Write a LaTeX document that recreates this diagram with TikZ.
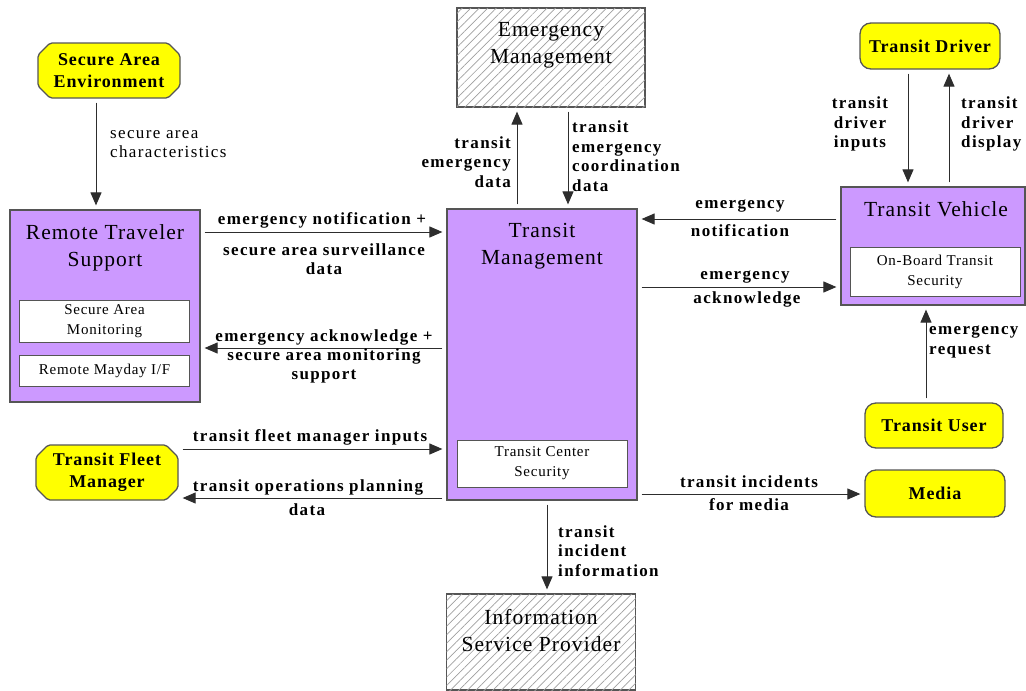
\documentclass[tikz,border=0pt]{standalone}
\usepackage{fontspec}
\setmainfont{Liberation Serif}
\newfontfamily\lblfont{Liberation Serif}[LetterSpace=8]
\newfontfamily\ttlfont{Liberation Serif}[LetterSpace=5]
\usetikzlibrary{arrows.meta,patterns.meta,shapes.misc}

\definecolor{sysfill}{RGB}{204,153,255}
\definecolor{termfill}{RGB}{255,255,0}
\definecolor{edgegray}{RGB}{85,85,85}
\definecolor{hatchgray}{RGB}{160,160,160}
\definecolor{flowgray}{RGB}{45,45,45}

\tikzset{
  sysbox/.style={draw=edgegray, line width=1.2pt, fill=sysfill, inner sep=0pt},
  titletext/.style={font=\ttlfont\fontsize{21.5}{27}\selectfont, align=center, inner sep=0pt},
  innerbox/.style={draw=edgegray, line width=1pt, fill=white, inner sep=0pt,
    font=\ttlfont\fontsize{15}{20}\selectfont, align=center},
  termbox/.style={draw=edgegray, line width=1.3pt, fill=termfill, rounded corners=11pt,
    inner sep=0pt, font=\ttlfont\bfseries\fontsize{18}{22}\selectfont, align=center},
  termchamf/.style={termbox, rounded corners=2pt, chamfered rectangle,
    chamfered rectangle xsep=6pt, chamfered rectangle ysep=6pt},
  extbox/.style={draw=edgegray, line width=1.2pt, fill=white, inner sep=0pt,
    postaction={pattern={Lines[angle=45,distance=6pt,line width=0.7pt]}, pattern color=hatchgray}},
  flow/.style={draw=flowgray, line width=1pt, -{Triangle[length=13pt,width=11pt]},
    shorten <=4pt, shorten >=4pt},
  flowlbl/.style={font=\lblfont\bfseries\fontsize{17}{19.5}\selectfont, inner sep=0pt},
  flowlblreg/.style={font=\lblfont\fontsize{17}{19.5}\selectfont, inner sep=0pt},
}

\begin{document}
\begin{tikzpicture}[x=1pt,y=-1pt]
\useasboundingbox (0,0) rectangle (1026,691);
\fill[white] (0,0) rectangle (1026,691);

% ---------- terminators (yellow) ----------
\node[termchamf, minimum width=142pt, minimum height=55pt] (sae) at (109,70.5) {Secure Area\\Environment};
\node[termchamf, minimum width=142pt, minimum height=55pt] (tfm) at (107,472.5) {Transit Fleet\\Manager};
\node[termbox, minimum width=140pt, minimum height=46pt] (td) at (930,46) {Transit Driver};
\node[termbox, minimum width=138pt, minimum height=45pt] (tu) at (934,425.5) {Transit User};
\node[termbox, minimum width=140pt, minimum height=47pt] (media) at (935,493.5) {Media};

% ---------- external systems (hatched) ----------
\node[extbox, minimum width=188pt, minimum height=99pt] (em) at (551,57.5) {};
\node[titletext] (emtitle) at (551,45) {Emergency\\Management};
\node[extbox, minimum width=189pt, minimum height=96pt] (isp) at (541,642) {};
\node[titletext] (isptitle) at (541,630.5) {Information\\Service Provider};

% ---------- subsystems (purple) ----------
\node[sysbox, minimum width=190pt, minimum height=192pt] (rts) at (105,306) {};
\node[titletext] (rtstitle) at (105,247.5) {Remote Traveler\\Support};
\node[innerbox, minimum width=170pt, minimum height=42pt] (sam) at (104.5,321) {Secure Area\\Monitoring};
\node[innerbox, minimum width=170pt, minimum height=31pt] (rmif) at (104.5,370.5) {Remote Mayday I/F};

\node[sysbox, minimum width=190pt, minimum height=291pt] (tm) at (542,354.5) {};
\node[titletext] (tmtitle) at (542,246.5) {Transit\\Management};
\node[innerbox, minimum width=170pt, minimum height=47pt] (tcs) at (542,463.5) {Transit Center\\Security};

\node[sysbox, minimum width=184pt, minimum height=118pt] (tv) at (933,246) {};
\node[titletext] (tvtitle) at (936,209) {Transit Vehicle};
\node[innerbox, minimum width=170pt, minimum height=49pt] (obts) at (935,271.5) {On-Board Transit\\Security};

% ---------- flows ----------
\draw[flow] (sae.south -| 96,0) -- (rts.north -| 96,0);
\node[flowlblreg, anchor=west, align=left] (lsac) at (110,144) {secure area\\characteristics};

\draw[flow] (tm.north -| 517,0) -- (em.south -| 517,0);
\node[flowlbl, anchor=east, align=right] (lted) at (511,162) {transit\\emergency\\data};
\draw[flow] (em.south -| 568,0) -- (tm.north -| 568,0);
\node[flowlbl, anchor=west, align=left] (ltecd) at (572,156) {transit\\emergency\\coordination\\data};

\draw[flow] (td.south -| 908,0) -- (tv.north -| 908,0);
\node[flowlbl, align=center] (ltdi) at (860,124) {transit\\driver\\inputs};
\draw[flow] (tv.north -| 949,0) -- (td.south -| 949,0);
\node[flowlbl, anchor=west, align=left] (ltdd) at (961,124) {transit\\driver\\display};

\draw[flow] (tv.west |- 0,219) -- (tm.east |- 0,219);
\node[flowlbl] (lenota) at (740,206) {emergency};
\node[flowlbl] (lenotb) at (740,231) {notification};
\draw[flow] (tm.east |- 0,287) -- (tv.west |- 0,287);
\node[flowlbl] (lacka) at (745,277) {emergency};
\node[flowlbl] (lackb) at (747,299) {acknowledge};

\draw[flow] (tu.north -| 926,0) -- (tv.south -| 926,0);
\node[flowlbl, anchor=west, align=left] (lereq) at (929,342) {emergency\\request};

\draw[flow] (tm.east |- 0,494) -- (media.west |- 0,494);
\node[flowlbl] (lmeda) at (749,482) {transit incidents};
\node[flowlbl] (lmedb) at (749,505) {for media};

\draw[flow] (tm.south -| 547,0) -- (isp.north -| 547,0);
\node[flowlbl, anchor=west, align=left] (linf) at (558,551) {transit\\incident\\information};

\draw[flow] (rts.east |- 0,232) -- (tm.west |- 0,232);
\node[flowlbl] (lsurva) at (322,220) {emergency notification +};
\node[flowlbl, align=center] (lsurvb) at (324,259) {secure area surveillance\\data};
\draw[flow] (tm.west |- 0,348) -- (rts.east |- 0,348);
\node[flowlbl] (lmona) at (324,337) {emergency acknowledge +};
\node[flowlbl, align=center] (lmonb) at (324,366) {secure area monitoring\\support};

\draw[flow] (tfm.east |- 0,449) -- (tm.west |- 0,449);
\node[flowlbl] (lfmi) at (310,437) {transit fleet manager inputs};
\draw[flow] (tm.west |- 0,498) -- (tfm.east |- 0,498);
\node[flowlbl] (lopa) at (308,487) {transit operations planning};
\node[flowlbl] (lopb) at (307,510) {data};
\end{tikzpicture}
\end{document}
